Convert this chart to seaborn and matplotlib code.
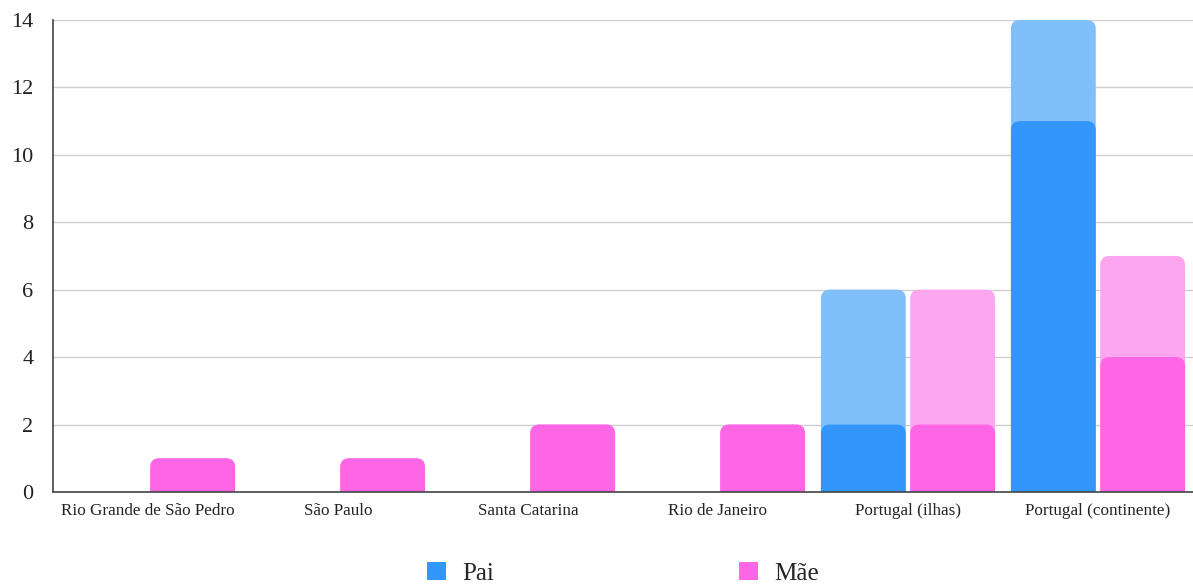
import matplotlib
matplotlib.use("Agg")
import matplotlib.pyplot as plt
import seaborn as sns
import pandas as pd
from matplotlib.patches import FancyBboxPatch, Patch

categories = ["Rio Grande de São Pedro", "São Paulo", "Santa Catarina",
              "Rio de Janeiro", "Portugal (ilhas)", "Portugal (continente)"]
series = ["Pai", "Mãe"]
pai_base = [0, 0, 0, 0, 2, 11]
pai_total = [0, 0, 0, 0, 6, 14]
mae_base = [1, 1, 2, 2, 2, 4]
mae_total = [1, 1, 2, 2, 6, 7]
y_ticks = [0, 2, 4, 6, 8, 10, 12, 14]

dark = {"Pai": "#3396FA", "Mãe": "#FF66E6"}
light = {"Pai": "#80BFFA", "Mãe": "#FCA6F0"}

rows = []
for i, c in enumerate(categories):
    rows.append({"Local": c, "Genitor": "Pai", "base": pai_base[i], "total": pai_total[i]})
    rows.append({"Local": c, "Genitor": "Mãe", "base": mae_base[i], "total": mae_total[i]})
df = pd.DataFrame(rows)

sns.set_theme(style="white")
plt.rcParams["font.family"] = ["Liberation Serif", "DejaVu Serif"]

fig = plt.figure(figsize=(11.93, 5.85), dpi=100)
ax = fig.add_axes([53 / 1193, 0.159, 1140 / 1193, 0.8069])

sns.barplot(data=df, x="Local", y="total", hue="Genitor", hue_order=series,
            palette=light, width=0.94, gap=0.05, ax=ax, legend=False,
            errorbar=None, saturation=1)
sns.barplot(data=df, x="Local", y="base", hue="Genitor", hue_order=series,
            palette=dark, width=0.94, gap=0.05, ax=ax, legend=False,
            errorbar=None, saturation=1)

ax.set_ylim(0, 14)
ax.set_xlim(-0.5, len(categories) - 0.5)
fig.canvas.draw()

# replace rectangles with top-rounded boxes
px_per_x = ax.transData.transform((1, 0))[0] - ax.transData.transform((0, 0))[0]
px_per_y = ax.transData.transform((0, 1))[1] - ax.transData.transform((0, 0))[1]
r_px = 9
rx = r_px / px_per_x
aspect = (r_px / px_per_y) / rx
rects = list(ax.patches)
for p in rects:
    x, y = p.get_x(), p.get_y()
    w, h = p.get_width(), p.get_height()
    fc = p.get_facecolor()
    p.remove()
    if h <= 0:
        continue
    ry = rx * aspect
    box = FancyBboxPatch((x, y - ry), w, h + ry,
                         boxstyle=f"round,pad=0,rounding_size={rx}",
                         mutation_aspect=aspect, facecolor=fc,
                         edgecolor="none", linewidth=0, zorder=2)
    ax.add_patch(box)

ax.set_yticks(y_ticks)
ax.yaxis.grid(True, color="#cfcfcf", linewidth=1)
ax.set_axisbelow(True)
for s in ["top", "right"]:
    ax.spines[s].set_visible(False)
for s in ["left", "bottom"]:
    ax.spines[s].set_color("#444444")
    ax.spines[s].set_linewidth(1.2)
    ax.spines[s].set_zorder(5)
ax.tick_params(axis="y", labelsize=16, length=0, pad=14, colors="#222222")
ax.tick_params(axis="x", labelsize=12.3, length=0, pad=8, colors="#222222")
ax.set_xlabel("")
ax.set_ylabel("")

handles = [Patch(facecolor=dark[s], edgecolor="none") for s in series]
ax.legend(handles, series, loc="center", bbox_to_anchor=(0.5, -0.172),
          ncol=2, frameon=False, fontsize=18, columnspacing=9.8,
          handlelength=0.75, handleheight=0.75, handletextpad=0.65)

fig.savefig("out.png", dpi=100)
